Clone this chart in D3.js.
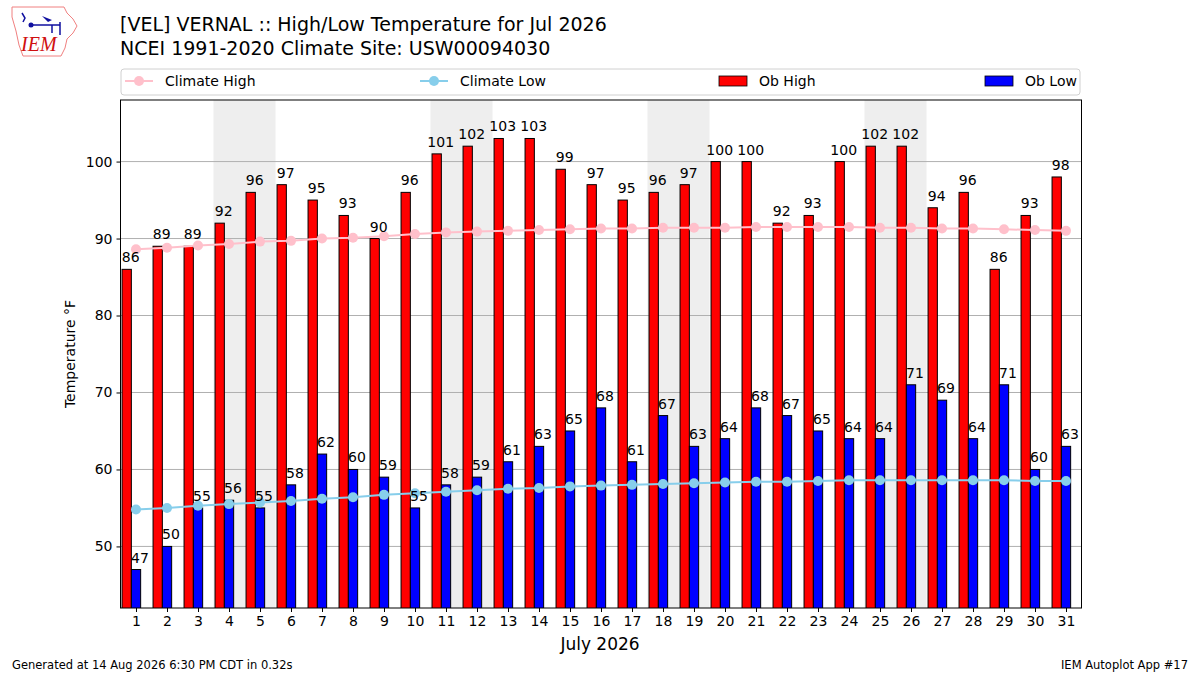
<!DOCTYPE html>
<html>
<head>
<meta charset="utf-8">
<script src="https://cdn.jsdelivr.net/npm/d3@7"></script>
<style>
  body { margin: 0; background: #fff; }
  svg { font-family: "DejaVu Sans", sans-serif; }
</style>
</head>
<body>
<svg id="chart" width="1200" height="675"></svg>
<script>
// July 2026 daily values
const days = d3.range(1, 32);
const obHigh = [86, 89, 89, 92, 96, 97, 95, 93, 90, 96, 101, 102, 103, 103, 99, 97,
                95, 96, 97, 100, 100, 92, 93, 100, 102, 102, 94, 96, 86, 93, 98];
const obLow = [47, 50, 55, 56, 55, 58, 62, 60, 59, 55, 58, 59, 61, 63, 65, 68,
               61, 67, 63, 64, 68, 67, 65, 64, 64, 71, 69, 64, 71, 60, 63];
const climHigh = [88.6, 88.8, 89.1, 89.3, 89.6, 89.7, 90.0, 90.1, 90.3, 90.6, 90.8, 90.9,
                  91.0, 91.1, 91.2, 91.3, 91.3, 91.4, 91.4, 91.4, 91.5, 91.5, 91.5, 91.5,
                  91.4, 91.4, 91.3, 91.3, 91.2, 91.1, 91.0];
const climLow = [54.8, 55.0, 55.3, 55.5, 55.7, 55.9, 56.2, 56.4, 56.7, 56.9, 57.1, 57.3,
                 57.5, 57.6, 57.8, 57.9, 58.0, 58.1, 58.2, 58.3, 58.4, 58.4, 58.5, 58.6,
                 58.6, 58.6, 58.6, 58.6, 58.6, 58.5, 58.5];
const weekends = [[4, 5], [11, 12], [18, 19], [25, 26]];
const yTicks = [50, 60, 70, 80, 90, 100];

const svg = d3.select("#chart");
const m = {left: 120.5, right: 1081.5, top: 100, bottom: 608};

const x = d3.scaleLinear().domain([0.5, 31.5]).range([m.left, m.right]);
const y = d3.scaleLinear().domain([42, 108]).range([m.bottom, m.top]);
const barW = x(0.3) - x(0);

// clip for plot area
svg.append("clipPath").attr("id", "clip")
  .append("rect").attr("x", m.left).attr("y", m.top)
  .attr("width", m.right - m.left).attr("height", m.bottom - m.top);

const plot = svg.append("g").attr("clip-path", "url(#clip)");

// weekend shading
plot.selectAll(".wk").data(weekends).enter().append("rect")
  .attr("x", d => x(d[0] - 0.5))
  .attr("width", d => x(d[1] + 0.5) - x(d[0] - 0.5))
  .attr("y", m.top).attr("height", m.bottom - m.top)
  .attr("fill", "#eeeeee");

// gridlines
plot.selectAll(".grid").data(yTicks).enter().append("line")
  .attr("x1", m.left).attr("x2", m.right)
  .attr("y1", d => y(d)).attr("y2", d => y(d))
  .attr("stroke", "#b0b0b0").attr("stroke-width", 1);

// bars
plot.selectAll(".hi").data(days).enter().append("rect")
  .attr("x", d => x(d - 0.3) - barW / 2)
  .attr("width", barW)
  .attr("y", (d, i) => y(obHigh[i]))
  .attr("height", (d, i) => y.range()[0] - y(obHigh[i]) + 5)
  .attr("fill", "#ff0000").attr("stroke", "#000").attr("stroke-width", 1);

plot.selectAll(".lo").data(days).enter().append("rect")
  .attr("x", d => x(d) - barW / 2)
  .attr("width", barW)
  .attr("y", (d, i) => y(obLow[i]))
  .attr("height", (d, i) => y.range()[0] - y(obLow[i]) + 5)
  .attr("fill", "#0000ff").attr("stroke", "#000").attr("stroke-width", 1);

// climate lines
const line = d3.line().x((d, i) => x(days[i])).y(d => y(d));
function climSeries(vals, color) {
  plot.append("path").datum(vals).attr("d", line)
    .attr("fill", "none").attr("stroke", color).attr("stroke-width", 2);
  plot.selectAll(null).data(vals).enter().append("circle")
    .attr("cx", (d, i) => x(days[i])).attr("cy", d => y(d))
    .attr("r", 5).attr("fill", color);
}
climSeries(climHigh, "#ffc0cb");
climSeries(climLow, "#87ceeb");

// value labels
const lab = svg.append("g").attr("font-size", 14).attr("text-anchor", "middle").attr("fill", "#000");
lab.selectAll(".hl").data(days).enter().append("text")
  .attr("x", d => x(d - 0.3) + 4)
  .attr("y", (d, i) => y(obHigh[i]) - 7)
  .text((d, i) => obHigh[i]);
lab.selectAll(".ll").data(days).enter().append("text")
  .attr("x", d => x(d) + 4)
  .attr("y", (d, i) => y(obLow[i]) - 7)
  .text((d, i) => obLow[i]);

// frame
svg.append("rect").attr("x", m.left).attr("y", m.top)
  .attr("width", m.right - m.left).attr("height", m.bottom - m.top)
  .attr("fill", "none").attr("stroke", "#000").attr("stroke-width", 1);

// axes
const xAxis = svg.append("g").attr("transform", `translate(0,${m.bottom})`)
  .call(d3.axisBottom(x).tickValues(days).tickFormat(d3.format("d")).tickSize(4).tickPadding(4));
const yAxis = svg.append("g").attr("transform", `translate(${m.left},0)`)
  .call(d3.axisLeft(y).tickValues(yTicks).tickSize(4).tickPadding(4));
[xAxis, yAxis].forEach(a => {
  a.select(".domain").remove();
  a.selectAll("text").attr("font-size", 14).attr("font-family", "DejaVu Sans").attr("fill", "#000");
  a.selectAll("line").attr("stroke", "#000");
});

svg.append("text").attr("x", 600).attr("y", 650).attr("text-anchor", "middle")
  .attr("font-size", 17).text("July 2026");
svg.append("text").attr("transform", `translate(75,${(m.top + m.bottom) / 2}) rotate(-90)`)
  .attr("text-anchor", "middle").attr("font-size", 14).text("Temperature °F");

// titles
svg.append("text").attr("x", 120).attr("y", 31).attr("font-size", 19).text("[VEL] VERNAL :: High/Low Temperature for Jul 2026");
svg.append("text").attr("x", 120).attr("y", 55).attr("font-size", 19).text("NCEI 1991-2020 Climate Site: USW00094030");

// legend
const leg = svg.append("g");
leg.append("rect").attr("x", 121).attr("y", 69).attr("width", 959).attr("height", 26)
  .attr("rx", 3).attr("fill", "#fff").attr("stroke", "#d0d0d0");
const legItems = [
  {label: "Climate High", color: "#ffc0cb", type: "line", x: 125},
  {label: "Climate Low", color: "#87ceeb", type: "line", x: 420},
  {label: "Ob High", color: "#ff0000", type: "rect", x: 719},
  {label: "Ob Low", color: "#0000ff", type: "rect", x: 985}
];
legItems.forEach(it => {
  const g = leg.append("g");
  if (it.type === "line") {
    g.append("line").attr("x1", it.x).attr("x2", it.x + 28).attr("y1", 81).attr("y2", 81)
      .attr("stroke", it.color).attr("stroke-width", 2);
    g.append("circle").attr("cx", it.x + 14).attr("cy", 81).attr("r", 5).attr("fill", it.color);
  } else {
    g.append("rect").attr("x", it.x).attr("y", 76).attr("width", 28).attr("height", 10)
      .attr("fill", it.color).attr("stroke", "#000").attr("stroke-width", 0.8);
  }
  g.append("text").attr("x", it.x + 40).attr("y", 86).attr("font-size", 14).text(it.label);
});

// footer
svg.append("text").attr("x", 12).attr("y", 669).attr("font-size", 11.5).text("Generated at 14 Aug 2026 6:30 PM CDT in 0.32s");
svg.append("text").attr("x", 1188).attr("y", 669).attr("font-size", 11.5).attr("text-anchor", "end").text("IEM Autoplot App #17");

// logo
const logo = svg.append("g");
logo.append("path")
  .attr("d", "M12,7 L64,7 L67,13 L73,19 L77,26 L73,33 L67,39 L65,48 L61,56 L23,56 L19,45 L16,31 L12,17 Z")
  .attr("fill", "none").attr("stroke", "#f08080").attr("stroke-width", 1);
logo.append("path").attr("d", "M31,25 L60,25 M52,25 L52,33 M60,22 L60,35 M22,13 L25,18 L23,22")
  .attr("stroke", "#1010a0").attr("stroke-width", 1.5).attr("fill", "none");
logo.append("path").attr("d", "M42,16 L52,20 L48,22 Z").attr("fill", "#1010a0");
logo.append("circle").attr("cx", 31).attr("cy", 25).attr("r", 2.5).attr("fill", "#1010a0");
logo.append("text").attr("x", 21).attr("y", 51).attr("font-size", 20).attr("font-style", "italic")
  .attr("font-family", "Liberation Serif, serif").attr("fill", "#d01010").text("IEM");
</script>
</body>
</html>
